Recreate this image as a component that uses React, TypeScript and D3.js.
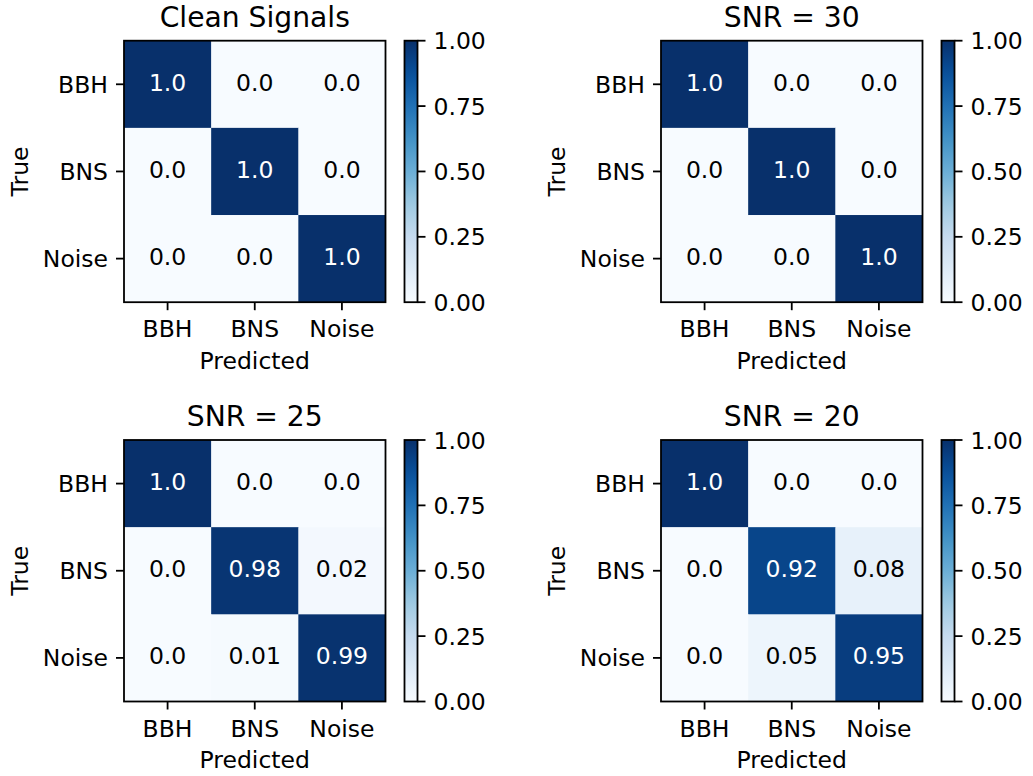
import React from "react";
import * as d3 from "d3";

const classes = ["BBH", "BNS", "Noise"];
const titles = ["Clean Signals", "SNR = 30", "SNR = 25", "SNR = 20"];
const cleanValues = [
  [1.0, 0.0, 0.0],
  [0.0, 1.0, 0.0],
  [0.0, 0.0, 1.0],
];
const snr30Values = [
  [1.0, 0.0, 0.0],
  [0.0, 1.0, 0.0],
  [0.0, 0.0, 1.0],
];
const snr25Values = [
  [1.0, 0.0, 0.0],
  [0.0, 0.98, 0.02],
  [0.0, 0.01, 0.99],
];
const snr20Values = [
  [1.0, 0.0, 0.0],
  [0.0, 0.92, 0.08],
  [0.0, 0.05, 0.95],
];
const colorbarTicks = [0, 0.25, 0.5, 0.75, 1.0];
const bluesStops = [
  "#f7fbff", "#deebf7", "#c6dbef", "#9ecae1", "#6baed6",
  "#4292c6", "#2171b5", "#08519c", "#08306b",
];

const matrices = [cleanValues, snr30Values, snr25Values, snr20Values];

const W = 1033;
const H = 776;
const SIZE = 261.5;
const colX = [124, 661];
const rowY = [40.7, 440];
const FONT = "DejaVu Sans, sans-serif";
const FS = 23.5;
const TFS = 28.2;
const LW = 1.8;
const TICK = 8;
const PAD = 8;
const CB_GAP = 19;
const CB_W = 13;

const color = d3
  .scaleLinear<string>()
  .domain(d3.range(bluesStops.length).map((i) => i / (bluesStops.length - 1)))
  .range(bluesStops)
  .interpolate(d3.interpolateRgb)
  .clamp(true);

function fmt(v: number) {
  return Number.isInteger(v) ? v.toFixed(1) : String(v);
}

function Panel({ idx }: { idx: number }) {
  const ox = colX[idx % 2];
  const oy = rowY[Math.floor(idx / 2)];
  const data = matrices[idx];
  const x = d3.scaleBand<string>().domain(classes).range([0, SIZE]);
  const y = d3.scaleBand<string>().domain(classes).range([0, SIZE]);
  const cb = d3.scaleLinear().domain([0, 1]).range([SIZE, 0]);
  const gid = `cbgrad${idx}`;
  const cbx = SIZE + CB_GAP;
  return (
    <g transform={`translate(${ox},${oy})`}>
      <defs>
        <linearGradient id={gid} x1="0" y1="1" x2="0" y2="0">
          {d3.range(0, 1.0001, 0.05).map((t) => (
            <stop key={t} offset={t} stopColor={color(t)} />
          ))}
        </linearGradient>
      </defs>
      {data.map((row, ri) =>
        row.map((v, ci) => (
          <rect
            key={`${ri}-${ci}`}
            x={x(classes[ci])}
            y={y(classes[ri])}
            width={x.bandwidth() + 0.5}
            height={y.bandwidth() + 0.5}
            fill={color(v)}
          />
        ))
      )}
      {data.map((row, ri) =>
        row.map((v, ci) => (
          <text
            key={`t${ri}-${ci}`}
            x={(x(classes[ci]) as number) + x.bandwidth() / 2}
            y={(y(classes[ri]) as number) + y.bandwidth() / 2 + 6.3}
            textAnchor="middle"
            fontSize={FS}
            fontFamily={FONT}
            fill={v > 0.5 ? "#ffffff" : "#000000"}
          >
            {fmt(v)}
          </text>
        ))
      )}
      <rect x={0} y={0} width={SIZE} height={SIZE} fill="none" stroke="#000" strokeWidth={LW} />
      {classes.map((c) => {
        const cx = (x(c) as number) + x.bandwidth() / 2;
        return (
          <g key={`x${c}`}>
            <line x1={cx} x2={cx} y1={SIZE} y2={SIZE + TICK} stroke="#000" strokeWidth={LW} />
            <text
              x={cx}
              y={SIZE + TICK + PAD + 19}
              textAnchor="middle"
              fontSize={FS}
              fontFamily={FONT}
            >
              {c}
            </text>
          </g>
        );
      })}
      {classes.map((c) => {
        const cy = (y(c) as number) + y.bandwidth() / 2;
        return (
          <g key={`y${c}`}>
            <line x1={-TICK} x2={0} y1={cy} y2={cy} stroke="#000" strokeWidth={LW} />
            <text
              x={-TICK - PAD}
              y={cy + 8.5}
              textAnchor="end"
              fontSize={FS}
              fontFamily={FONT}
            >
              {c}
            </text>
          </g>
        );
      })}
      <text
        x={SIZE / 2}
        y={SIZE + 66.5}
        textAnchor="middle"
        fontSize={FS}
        fontFamily={FONT}
      >
        Predicted
      </text>
      <text
        transform={`translate(${-96},${SIZE / 2}) rotate(-90)`}
        textAnchor="middle"
        fontSize={FS}
        fontFamily={FONT}
      >
        True
      </text>
      <text
        x={SIZE / 2}
        y={-14}
        textAnchor="middle"
        fontSize={TFS}
        fontFamily={FONT}
      >
        {titles[idx]}
      </text>
      <rect x={cbx} y={0} width={CB_W} height={SIZE} fill={`url(#${gid})`} />
      <rect x={cbx} y={0} width={CB_W} height={SIZE} fill="none" stroke="#000" strokeWidth={LW} />
      {colorbarTicks.map((t) => (
        <g key={`cb${t}`}>
          <line
            x1={cbx + CB_W}
            x2={cbx + CB_W + TICK}
            y1={cb(t)}
            y2={cb(t)}
            stroke="#000"
            strokeWidth={LW}
          />
          <text
            x={cbx + CB_W + TICK + PAD}
            y={cb(t) + 8.5}
            fontSize={FS}
            fontFamily={FONT}
          >
            {t.toFixed(2)}
          </text>
        </g>
      ))}
    </g>
  );
}

export default function App() {
  return (
    <svg
      width={W}
      height={H}
      viewBox={`0 0 ${W} ${H}`}
      style={{ position: "absolute", left: 0, top: 0, background: "#fff" }}
    >
      <rect x={0} y={0} width={W} height={H} fill="#fff" />
      {[0, 1, 2, 3].map((i) => (
        <Panel key={i} idx={i} />
      ))}
    </svg>
  );
}
